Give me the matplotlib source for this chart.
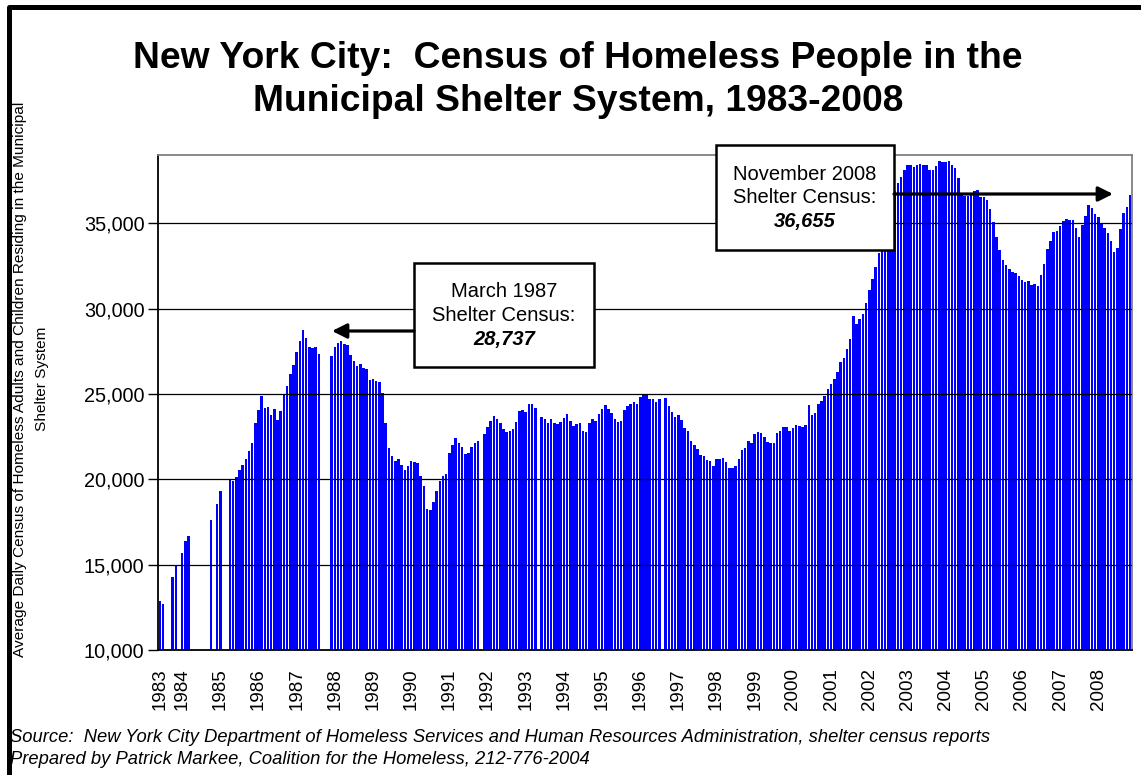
import numpy as np
import matplotlib.pyplot as plt
from matplotlib.lines import Line2D
from matplotlib.patches import Rectangle, FancyArrowPatch

nan = np.nan

# monthly shelter census (gaps = months with no report)
census_1983_1989 = [
    12865, 12690, nan, nan, 14270, 14910, nan, 15690, 16370, 16700, nan, nan,
    nan, nan, nan, nan, 17640, nan, 18580,
    19340, nan, nan, 20000, 19885, 20160, 20530, 20840, 21170, 21680, 22150, 23300,
    24060, 24900, 24200, 24220, 23770, 24120, 23480, 24010, 25000, 25470, 26170, 26680,
    27440, 28090, 28737, 28260, 27730, 27680, 27770, 27330, nan, nan, nan, 27230,
    27760, 27970, 28090, 27910, 27870, 27290, 26940, 26660, 26740, 26550, 26470, 25820,
    25880, 25780, 25700, 25040, 23320, 21820, 21370, 21090, 21170, 20840, 20550, 20800,
]
census_1990_1999 = [
    21060, 21020, 20960, 20180, 19590, 18260, 18190, 18650, 19320, 19920, 20200, 20300,
    21530, 22010, 22420, 22150, 21920, 21490, 21530, 21880, 22150, 22250, nan, 22660,
    23050, 23440, 23710, 23540, 23280, 22950, 22760, 22830, 22950, 23380, 24010, 24060,
    23930, 24400, 24400, 24160, nan, 23670, 23540, 23320, 23520, 23320, 23240, 23340,
    23580, 23850, 23440, 23110, 23260, 23280, 22830, 22770, 23320, 23520, 23440, 23850,
    24100, 24360, 24140, 23910, 23520, 23360, 23400, 24060, 24300, 24400, 24510, 24400,
    24810, 24920, 24920, 24690, 24690, 24510, 24690, nan, 24750, 24300, 23950, 23650,
    23750, 23480, 23030, 22850, 22230, 21990, 21760, 21430, 21350, 21110, 21070, 20780,
    21210, 21170, 21250, 21020, 20680, 20650, 20800, 21210, 21720, 21820, 22270, 22150,
    22680, 22790, 22700, 22480, 22190, 22150, 22110, 22700, 22830, 23090, 23090, 22850,
]
census_2000_2008 = [
    22990, 23190, 23130, 23070, 23190, 24330, 23760, 23880, 24410, 24570, 24900, 25290,
    25570, 25880, 26270, 26860, 27110, 27640, 28220, 29590, 29120, 29400, 29670, 30320,
    31080, 31740, 32460, 33240, 33900, 34700, 35600, 36300, 36900, 37350, 37690, 38130,
    38400, 38440, 38290, 38400, 38480, 38440, 38440, 38130, 38130, 38360, 38650, 38600,
    38580, 38650, 38420, 38220, 37640, 36740, 36600, 36590, 36740, 36920, 36960, 36560,
    36530, 36370, 35840, 35100, 34180, 33450, 32850, 32560, 32320, 32170, 32110, 31920,
    31680, 31550, 31620, 31390, 31430, 31350, 31970, 32600, 33480, 33990, 34460, 34560,
    34850, 35160, 35260, 35200, 35200, 34750, 34220, 34900, 35430, 36070, 35880, 35530,
    35350, 35040, 34700, 34410, 33990, 33320, 33540, 34650, 35590, 35980, 36655,
]

year_labels = [str(y) for y in range(1983, 2009)]
year_starts = [0, 7] + list(range(19, 296, 12))

census = np.array(census_1983_1989 + census_1990_1999 + census_2000_2008, dtype=float)

plt.rcParams['font.family'] = ['Liberation Sans', 'DejaVu Sans']

W, H = 1141, 775
def fx(px):
    return px / W
def fy(py):
    return 1 - py / H

fig = plt.figure(figsize=(W / 100, H / 100), dpi=100)
ax = fig.add_axes([fx(158.3), fy(650), fx(1131.7) - fx(158.3), fy(155) - fy(650)])

x = np.arange(len(census))
ax.bar(x, np.nan_to_num(census), width=0.8, color='#0000FF', linewidth=0, zorder=2)

ax.set_xlim(-0.5, len(census) - 0.5)
ax.set_ylim(10000, 39000)

yt = list(range(10000, 35001, 5000))
ax.set_yticks(yt)
ax.set_yticklabels([f'{v:,}' for v in yt], fontsize=14.3)
for v in yt[1:]:
    ax.axhline(v, color='black', lw=0.9, zorder=3)

ax.set_xticks(year_starts)
ax.set_xticklabels(year_labels, rotation=90, fontsize=13.5)
ax.tick_params(axis='x', length=0, pad=13)
ax.tick_params(axis='y', length=7, width=1, direction='out', pad=3)

for s in ['left', 'bottom']:
    ax.spines[s].set_color('black')
    ax.spines[s].set_linewidth(1.3)
for s in ['top', 'right']:
    ax.spines[s].set_color('#808080')
    ax.spines[s].set_linewidth(1.3)

# title
fig.text(fx(578), fy(80),
         'New York City:  Census of Homeless People in the\nMunicipal Shelter System, 1983-2008',
         ha='center', va='center', fontsize=26.8, fontweight='bold', linespacing=1.3)

# y label
fig.text(fx(31), fy(379),
         'Average Daily Census of Homeless Adults and Children Residing in the Municipal\nShelter System',
         rotation=90, ha='center', va='center', fontsize=11.1, multialignment='center',
         linespacing=1.75)

# callout boxes
def callout(x0, y0, x1, y1, lines, arrow_from, arrow_to):
    fig.add_artist(Rectangle((fx(x0), fy(y1)), fx(x1) - fx(x0), fy(y0) - fy(y1),
                             transform=fig.transFigure, facecolor='white',
                             edgecolor='black', lw=1.8, zorder=5))
    cx = (x0 + x1) / 2
    cy = (y0 + y1) / 2
    fig.text(fx(cx), fy(cy - 23.5), lines[0], ha='center', va='center', fontsize=14.5, zorder=6)
    fig.text(fx(cx), fy(cy), lines[1], ha='center', va='center', fontsize=14.5, zorder=6)
    fig.text(fx(cx), fy(cy + 24), lines[2], ha='center', va='center', fontsize=14.5,
             fontweight='bold', fontstyle='italic', zorder=6)
    fig.add_artist(FancyArrowPatch(
        (fx(arrow_from[0]), fy(arrow_from[1])), (fx(arrow_to[0]), fy(arrow_to[1])),
        transform=fig.transFigure, arrowstyle='-|>', mutation_scale=22,
        color='black', lw=2.3, shrinkA=0, shrinkB=0, zorder=6))

callout(414, 263, 594, 367, ['March 1987', 'Shelter Census:', '28,737'],
        (414, 331), (332, 331))
callout(716, 145, 894, 250, ['November 2008', 'Shelter Census:', '36,655'],
        (894, 194), (1113, 194))

# source
fig.text(fx(10), fy(737),
         'Source:  New York City Department of Homeless Services and Human Resources Administration, shelter census reports',
         ha='left', va='center', fontsize=13.2, fontstyle='italic')
fig.text(fx(10), fy(759),
         'Prepared by Patrick Markee, Coalition for the Homeless, 212-776-2004',
         ha='left', va='center', fontsize=13.2, fontstyle='italic')

# outer frame (top and left edges)
fig.add_artist(Line2D([fx(8.5), fx(8.5), fx(W)], [0, fy(6.5), fy(6.5)],
                      transform=fig.transFigure, color='black', lw=3.6,
                      solid_capstyle='projecting'))

fig.savefig('out.png', dpi=100)
